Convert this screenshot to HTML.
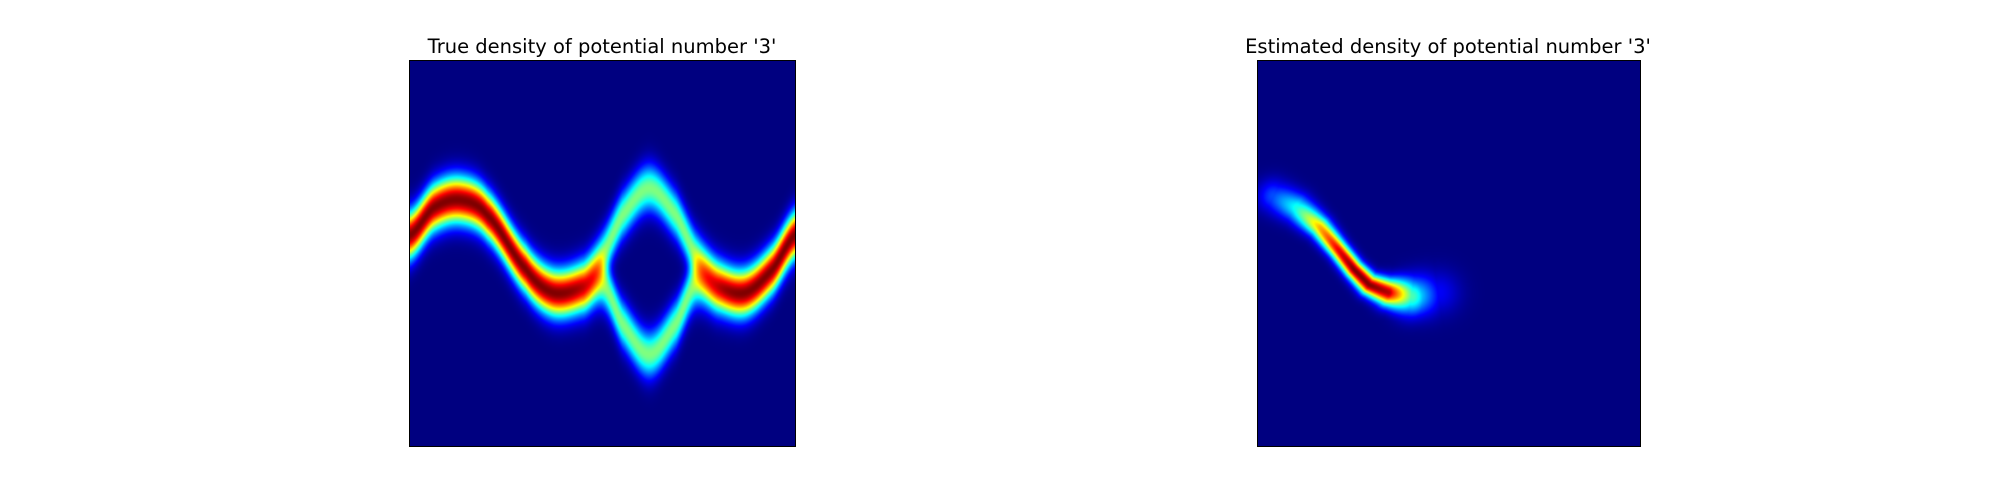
<!DOCTYPE html>
<html><head><meta charset="utf-8">
<style>
body{margin:0;background:#fff;width:2000px;height:500px;position:relative;overflow:hidden;font-family:"DejaVu Sans","Liberation Sans",sans-serif}
.t{position:absolute;font-size:19.5px;color:#000;text-align:center;width:600px;top:35px;white-space:nowrap}
canvas{position:absolute;border:1px solid #000;box-sizing:border-box}
</style></head><body>
<div class="t" style="left:302px">True density of potential number '3'</div>
<div class="t" style="left:1148px">Estimated density of potential number '3'</div>
<canvas id="c1" width="387" height="387" style="left:409px;top:60px;width:387px;height:387px"></canvas>
<canvas id="c2" width="384" height="387" style="left:1257px;top:60px;width:384px;height:387px"></canvas>
<script>
// true density: two ridge curves (x, y fractions of panel)
const curveAx=[0,.06,.13,.2,.3,.37,.45,.5,.55,.62,.69,.74,.8,.87,.94,1];
const curveAy=[.45,.38,.36,.4,.54,.6,.57,.5,.4,.33,.4,.5,.57,.6,.54,.45];
const curveBx=[0,.06,.13,.2,.3,.37,.45,.5,.55,.62,.69,.74,.8,.87,.94,1];
const curveBy=[.45,.38,.36,.4,.54,.6,.6,.58,.68,.76,.68,.58,.6,.6,.54,.45];
const ridgeWidth=0.042;
// estimated density: ridge points with amplitude and spread
const estX=[.04,.1,.16,.21,.25,.29,.34,.4,.47];
const estY=[.35,.38,.43,.49,.54,.58,.6,.61,.6];
const estAmp=[.2,.4,.7,.9,1,1,.95,.45,.12];
const estW=[.03,.026,.02,.017,.017,.019,.024,.034,.04];

function jet(v){v=Math.max(0,Math.min(1,v));
 const f=t=>Math.max(0,Math.min(1,1.5-Math.abs(4*v-t)));
 return [f(3)*255,f(2)*255,f(1)*255];}
function interp(xs,ys,x){const n=xs.length;
 for(let i=0;i<n-1;i++){if(x<=xs[i+1]){const t=(x-xs[i])/(xs[i+1]-xs[i]);
  const p0=ys[Math.max(0,i-1)],p1=ys[i],p2=ys[i+1],p3=ys[Math.min(n-1,i+2)];
  const t2=t*t,t3=t2*t;
  return 0.5*((2*p1)+(-p0+p2)*t+(2*p0-5*p1+4*p2-p3)*t2+(-p0+3*p1-3*p2+p3)*t3);}}
 return ys[n-1];}
function paint(id,fn){const c=document.getElementById(id),g=c.getContext('2d'),W=c.width,H=c.height,im=g.createImageData(W,H);
 for(let j=0;j<H;j++)for(let i=0;i<W;i++){const v=fn(i/W,j/H),col=jet(v),k=(j*W+i)*4;im.data[k]=col[0];im.data[k+1]=col[1];im.data[k+2]=col[2];im.data[k+3]=255;}
 g.putImageData(im,0,0);}
paint('c1',(x,y)=>{const a=interp(curveAx,curveAy,x),b=interp(curveBx,curveBy,x);
 const s2=2*ridgeWidth*ridgeWidth;
 return 0.5*Math.exp(-(y-a)*(y-a)/s2)+0.5*Math.exp(-(y-b)*(y-b)/s2);});
paint('c2',(x,y)=>{let m=0;
 for(let i=0;i<estX.length-1;i++){const dx=estX[i+1]-estX[i],dy=estY[i+1]-estY[i];
  let t=((x-estX[i])*dx+(y-estY[i])*dy)/(dx*dx+dy*dy);t=Math.max(0,Math.min(1,t));
  const px=estX[i]+t*dx,py=estY[i]+t*dy,d2=(x-px)*(x-px)+(y-py)*(y-py);
  const A=estAmp[i]+t*(estAmp[i+1]-estAmp[i]),w=estW[i]+t*(estW[i+1]-estW[i]);
  m=Math.max(m,A*Math.exp(-d2/(2*w*w)));}
 return m;});
</script>
</body></html>
